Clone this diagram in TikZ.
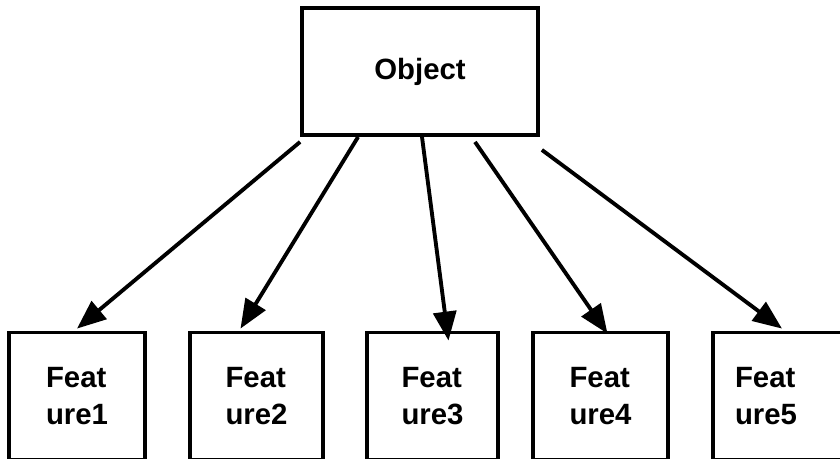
\documentclass[tikz,border=0pt]{standalone}
\usepackage{fontspec}
\setmainfont{Liberation Sans}
\usetikzlibrary{calc}
\usetikzlibrary{arrows.meta}
\tikzset{
  box/.style={draw, line width=2.2pt, minimum height=2.54cm, align=left,
    font=\bfseries\fontsize{16.7}{21.5}\selectfont},
  link/.style={-{Triangle[length=0.58cm,width=0.46cm]}, line width=2.2pt}
}

\begin{document}
\begin{tikzpicture}[x=0.02cm, y=-0.02cm]
  \useasboundingbox (0,0) rectangle (840,458);
  \node [box, minimum width=4.72cm] (obj) at (420,71.5) {Object};
  \node [box, minimum width=2.72cm] (f1) at (77,396) {Feat\\ure1};
  \node [box, minimum width=2.66cm] (f2) at (256.5,396) {Feat\\ure2};
  \node [box, minimum width=2.62cm] (f3) at (432.5,396) {Feat\\ure3};
  \node [box, minimum width=2.70cm] (f4) at (600.5,396) {Feat\\ure4};
  \node [box, inner xsep=0.44cm, text width=1.76cm] (f5) at (779,396) {Feat\\ure5};
  \draw [link] ($(obj.south west)+(0,5)$) -- ($(f1.north)+(0,-2)$);
  \draw [link] ($(obj.south west)+(58,0)$) -- ($(f2.north)+(-16,-2)$);
  \draw [link] ($(obj.south)+(2,0)$) -- ($(f3.north)+(16,10)$);
  \draw [link] ($(obj.south)+(55,5)$) -- ($(f4.north)+(7,3)$);
  \draw [link] ($(obj.south east)+(2,13)$) -- ($(f5.north)+(3,-2)$);
\end{tikzpicture}
\end{document}
